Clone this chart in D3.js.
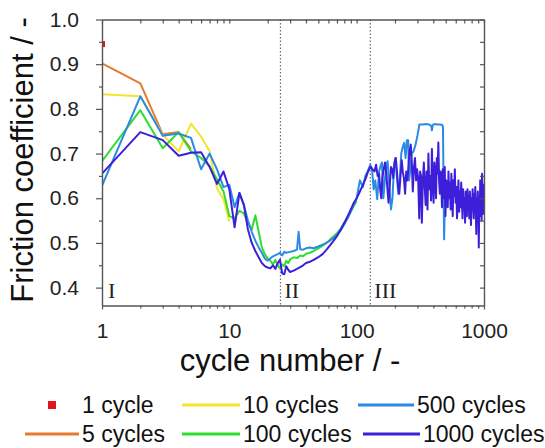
<!DOCTYPE html>
<html>
<head>
<meta charset="utf-8">
<script src="https://cdn.jsdelivr.net/npm/d3@7"></script>
<style>
  html, body { margin: 0; padding: 0; background: #fff; }
  svg text { font-family: "Liberation Sans", Arial, Helvetica, sans-serif; }
</style>
</head>
<body>
<svg id="chart" width="545" height="448"></svg>
<script>
// Friction coefficient vs. cycle number, one run per test length.
const cycle1 = [[1, 0.945]];
const cycles5 = [[1,0.902],[2,0.857],[3,0.743],[4,0.748],[5,0.71]];
const cycles10 = [[1,0.833],[2,0.828],[3,0.742],[4,0.705],[5,0.767],[6,0.738],[7,0.705],[8,0.622],[9,0.598],[10,0.548]];
const cycles100 = [[1,0.683],[2,0.797],[3,0.712],[4,0.748],[5,0.705],[6,0.69],[7,0.672],[8,0.642],[9,0.615],[10,0.56],
  [11,0.555],[12,0.572],[13,0.566],[14,0.545],[15,0.53],[16,0.562],[17,0.525],[18,0.49],[19,0.475],[20,0.465],
  [21,0.46],[22,0.452],[23,0.462],[24,0.45],[25,0.443],[26,0.452],[27,0.448],[28,0.46],[29,0.455],[30,0.463],
  [32,0.468],[34,0.466],[36,0.472],[38,0.47],[40,0.476],[43,0.478],[46,0.482],[50,0.488],[54,0.494],[58,0.5],
  [62,0.508],[66,0.515],[70,0.522],[75,0.532],[80,0.545],[85,0.558],[90,0.57],[95,0.583],[100,0.594]];
const cycles500 = [[1,0.628],[2,0.828],[3,0.74],[4,0.745],[5,0.735],[6,0.665],[7,0.7],[8,0.665],[9,0.625],[10,0.63],
  [11,0.58],[12,0.612],[13,0.585],[14,0.55],[15,0.525],[16,0.505],[17,0.49],[18,0.478],[19,0.465],[20,0.46],
  [22,0.47],[24,0.475],[25,0.478],[26,0.472],[27,0.48],[28,0.478],[30,0.48],[32,0.482],[34,0.485],[35,0.525],
  [36,0.486],[38,0.485],[40,0.488],[43,0.49],[46,0.488],[50,0.492],[55,0.497],[60,0.503],[65,0.51],[70,0.518],
  [75,0.528],[80,0.542],[85,0.555],[90,0.57],[95,0.585],[100,0.6],[106,0.64],[112,0.625],[117,0.65],[122,0.66],
  [128,0.675],[132,0.665],[136,0.62],[140,0.64],[145,0.598],[150,0.66],[155,0.675],[158,0.68],[162,0.6],[166,0.635],
  [170,0.67],[175,0.683],[180,0.63],[186,0.575],[191,0.6],[196,0.665],[201,0.69],[206,0.655],[212,0.61],[218,0.64],
  [224,0.7],[230,0.715],[236,0.724],[242,0.69],[248,0.73],[254,0.73],[258,0.64],[264,0.665],[270,0.7],[280,0.705],
  [290,0.72],[300,0.74],[311,0.765],[330,0.765],[350,0.766],[370,0.765],[385,0.762],[390,0.752],[396,0.764],[410,0.766],
  [430,0.765],[450,0.765],[470,0.764],[476,0.76],[482,0.62],[486,0.508],[490,0.56],[494,0.62],[500,0.61]];
const cycles1000 = [[1,0.655],[2,0.748],[3,0.73],[4,0.695],[5,0.702],[6,0.703],[7,0.67],[8,0.632],[9,0.66],[10,0.62],
  [11,0.535],[12,0.612],[13,0.585],[14,0.53],[15,0.5],[16,0.482],[17,0.468],[18,0.455],[19,0.448],[20,0.445],
  [21,0.443],[22,0.45],[23,0.442],[24,0.455],[25,0.462],[26,0.432],[27,0.43],[28,0.448],[29,0.44],[30,0.435],
  [32,0.438],[34,0.442],[36,0.446],[38,0.45],[40,0.455],[43,0.458],[46,0.462],[50,0.468],[54,0.475],[58,0.485],
  [62,0.495],[66,0.505],[70,0.515],[75,0.53],[80,0.545],[85,0.56],[90,0.575],[95,0.59],[100,0.6],[106,0.615],
  [112,0.63],[118,0.645],[123,0.66],[128,0.67],[133,0.665],[138,0.66],[142,0.675],[146,0.65],[150,0.655],[153,0.62],
  [156,0.6],[159,0.645],[163,0.665],[167,0.68],[171,0.655],[175,0.615],[178,0.59],[182,0.63],[186,0.67],[190,0.665],
  [194,0.645],[198,0.68],[203,0.69],[207,0.66],[212,0.625],[216,0.61],[221,0.65],[226,0.685],[230,0.66],[235,0.645],
  [240,0.61],[245,0.66],[250,0.64],[255,0.67],[260,0.705],[266,0.72],[271,0.68],[276,0.615],[282,0.67],[287,0.69],
  [293,0.64],[298,0.665],[304,0.645],[310,0.555],[315,0.66],[320,0.65],[325,0.545],[331,0.64],[337,0.68],[342,0.63],
  [348,0.585],[354,0.66],[360,0.575],[366,0.7],[372,0.62],[378,0.65],[384,0.595],[390,0.71],[396,0.63],[402,0.59],
  [408,0.68],[414,0.65],[420,0.6],[426,0.69],[432,0.655],[438,0.725],[444,0.64],[450,0.61],[456,0.66],[462,0.63],
  [468,0.58],[474,0.665],[480,0.64],[486,0.6],[492,0.67],[498,0.56],[505,0.64],[512,0.62],[519,0.58],[526,0.66],
  [533,0.6],[540,0.635],[547,0.575],[554,0.655],[561,0.615],[568,0.56],[575,0.64],[582,0.605],[590,0.665],[598,0.59],
  [606,0.625],[614,0.555],[622,0.6],[630,0.64],[638,0.57],[646,0.615],[654,0.58],[662,0.635],[670,0.595],[678,0.555],
  [686,0.62],[694,0.575],[702,0.6],[710,0.545],[718,0.615],[726,0.58],[734,0.56],[742,0.62],[750,0.585],[758,0.6],
  [766,0.555],[774,0.615],[782,0.59],[790,0.54],[798,0.6],[806,0.575],[814,0.62],[822,0.58],[830,0.555],[838,0.61],
  [846,0.585],[854,0.625],[862,0.57],[870,0.52],[878,0.6],[886,0.57],[894,0.615],[902,0.575],[910,0.49],[918,0.59],
  [926,0.56],[934,0.64],[942,0.585],[950,0.61],[958,0.55],[966,0.655],[974,0.6],[982,0.565],[990,0.63],[1000,0.59]];

const yTicks = [0.4, 0.5, 0.6, 0.7, 0.8, 0.9, 1.0];
const yMinorTicks = [0.45, 0.55, 0.65, 0.75, 0.85, 0.95];
const xTicks = [1, 10, 100, 1000];
const xMinorTicks = [2,3,4,5,6,7,8,9,20,30,40,50,60,70,80,90,200,300,400,500,600,700,800,900];
const regimeBounds = [25.2, 128];
const regimeLabels = [["I", 1, 6], ["II", 25.2, 4], ["III", 128, 4]];

const series = [
  { name: "5 cycles", data: cycles5, color: "#e67a2e" },
  { name: "10 cycles", data: cycles10, color: "#f2e52e" },
  { name: "100 cycles", data: cycles100, color: "#2ede2e" },
  { name: "500 cycles", data: cycles500, color: "#2a8be6" },
  { name: "1000 cycles", data: cycles1000, color: "#3d1fd9" }
];
const pointColor = "#e4141b";

const svg = d3.select("#chart");
const plotL = 102, plotR = 484, plotT = 19.5, plotB = 305.5;
const x = d3.scaleLog().domain([1, 1000]).range([plotL, plotR]);
const y = d3.scaleLinear().domain([0.36, 1.0]).range([plotB, plotT]);

svg.append("defs").append("clipPath").attr("id", "plotClip")
  .append("rect").attr("x", plotL).attr("y", plotT).attr("width", plotR - plotL).attr("height", plotB - plotT);

// regime separators
svg.append("g").selectAll("line").data(regimeBounds).join("line")
  .attr("x1", d => x(d)).attr("x2", d => x(d))
  .attr("y1", plotT).attr("y2", plotB)
  .attr("stroke", "#6a6a6a").attr("stroke-width", 1.2).attr("stroke-dasharray", "1.5,2");

const plot = svg.append("g").attr("clip-path", "url(#plotClip)");
const line = d3.line().x(d => x(d[0])).y(d => y(d[1]));
plot.selectAll("path.run").data(series).join("path")
  .attr("class", "run")
  .attr("d", d => line(d.data))
  .attr("fill", "none")
  .attr("stroke", d => d.color)
  .attr("stroke-width", 2)
  .attr("stroke-linejoin", "round");

plot.selectAll("rect.pt").data(cycle1).join("rect")
  .attr("class", "pt")
  .attr("x", d => x(d[0]) - 3).attr("y", d => y(d[1]) - 3)
  .attr("width", 6).attr("height", 6).attr("fill", pointColor);

// axes
const axisColor = "#555";
function styleAxis(g) {
  g.selectAll("path.domain").attr("stroke", axisColor).attr("stroke-width", 1.4);
  g.selectAll(".tick line").attr("stroke", axisColor).attr("stroke-width", 1.2);
  g.selectAll("text").attr("fill", "#222").style("font-size", "21px");
}

svg.append("g").attr("transform", `translate(0,${plotB})`)
  .call(d3.axisBottom(x).tickValues(xTicks).tickFormat(d3.format("d")).tickSizeInner(4).tickSizeOuter(0).tickPadding(14))
  .call(styleAxis);
svg.append("g").attr("transform", `translate(0,${plotB})`)
  .call(d3.axisBottom(x).tickValues(xMinorTicks).tickFormat("").tickSizeInner(3).tickSizeOuter(0))
  .call(styleAxis).select("path.domain").remove();

svg.append("g").attr("transform", `translate(${plotL},0)`)
  .call(d3.axisLeft(y).tickValues(yTicks).tickFormat(d3.format(".1f")).tickSizeInner(6).tickSizeOuter(0).tickPadding(17))
  .call(styleAxis);
svg.append("g").attr("transform", `translate(${plotL},0)`)
  .call(d3.axisLeft(y).tickValues(yMinorTicks).tickFormat("").tickSizeInner(3).tickSizeOuter(0))
  .call(styleAxis).select("path.domain").remove();

// top and right frame with inward ticks
svg.append("g").attr("transform", `translate(0,${plotT})`)
  .call(d3.axisTop(x).tickValues(xTicks.concat(xMinorTicks)).tickFormat("").tickSizeInner(-4).tickSizeOuter(0))
  .call(styleAxis);
svg.append("g").attr("transform", `translate(${plotR},0)`)
  .call(d3.axisRight(y).tickValues(yTicks.concat(yMinorTicks)).tickFormat("").tickSizeInner(-4).tickSizeOuter(0))
  .call(styleAxis);

// regime labels
svg.append("g").selectAll("text").data(regimeLabels).join("text")
  .attr("x", d => x(d[1]) + d[2]).attr("y", plotB - 7.5)
  .attr("fill", "#222")
  .style("font-family", "'Liberation Serif', 'Times New Roman', serif")
  .style("font-size", "22px")
  .text(d => d[0]);

// axis titles
svg.append("text")
  .attr("transform", `translate(33,160) rotate(-90)`)
  .attr("text-anchor", "middle")
  .attr("fill", "#111")
  .style("font-size", "31px")
  .text("Friction coefficient / -");
svg.append("text")
  .attr("x", 290).attr("y", 371)
  .attr("text-anchor", "middle")
  .attr("fill", "#111")
  .style("font-size", "31px")
  .text("cycle number / -");

// legend
const legendItems = [
  { label: "1 cycle", color: pointColor, marker: true, lx: 48, tx: 82, row: 0 },
  { label: "10 cycles", color: series[1].color, lx: 182, tx: 243, row: 0 },
  { label: "500 cycles", color: series[3].color, lx: 358, tx: 417, row: 0 },
  { label: "5 cycles", color: series[0].color, lx: 25, tx: 82, row: 1 },
  { label: "100 cycles", color: series[2].color, lx: 182, tx: 243, row: 1 },
  { label: "1000 cycles", color: series[4].color, lx: 363, tx: 423, row: 1 }
];
const rowY = [405, 434];
const lg = svg.append("g");
legendItems.forEach(it => {
  const cy = rowY[it.row];
  if (it.marker) {
    lg.append("rect").attr("x", it.lx).attr("y", cy - 4).attr("width", 8).attr("height", 8).attr("fill", it.color);
  } else {
    lg.append("line").attr("x1", it.lx).attr("x2", it.tx - 3).attr("y1", cy).attr("y2", cy)
      .attr("stroke", it.color).attr("stroke-width", 3);
  }
  lg.append("text").attr("x", it.tx).attr("y", cy + 8)
    .attr("fill", "#111").style("font-size", "23px").text(it.label);
});
</script>
</body>
</html>
